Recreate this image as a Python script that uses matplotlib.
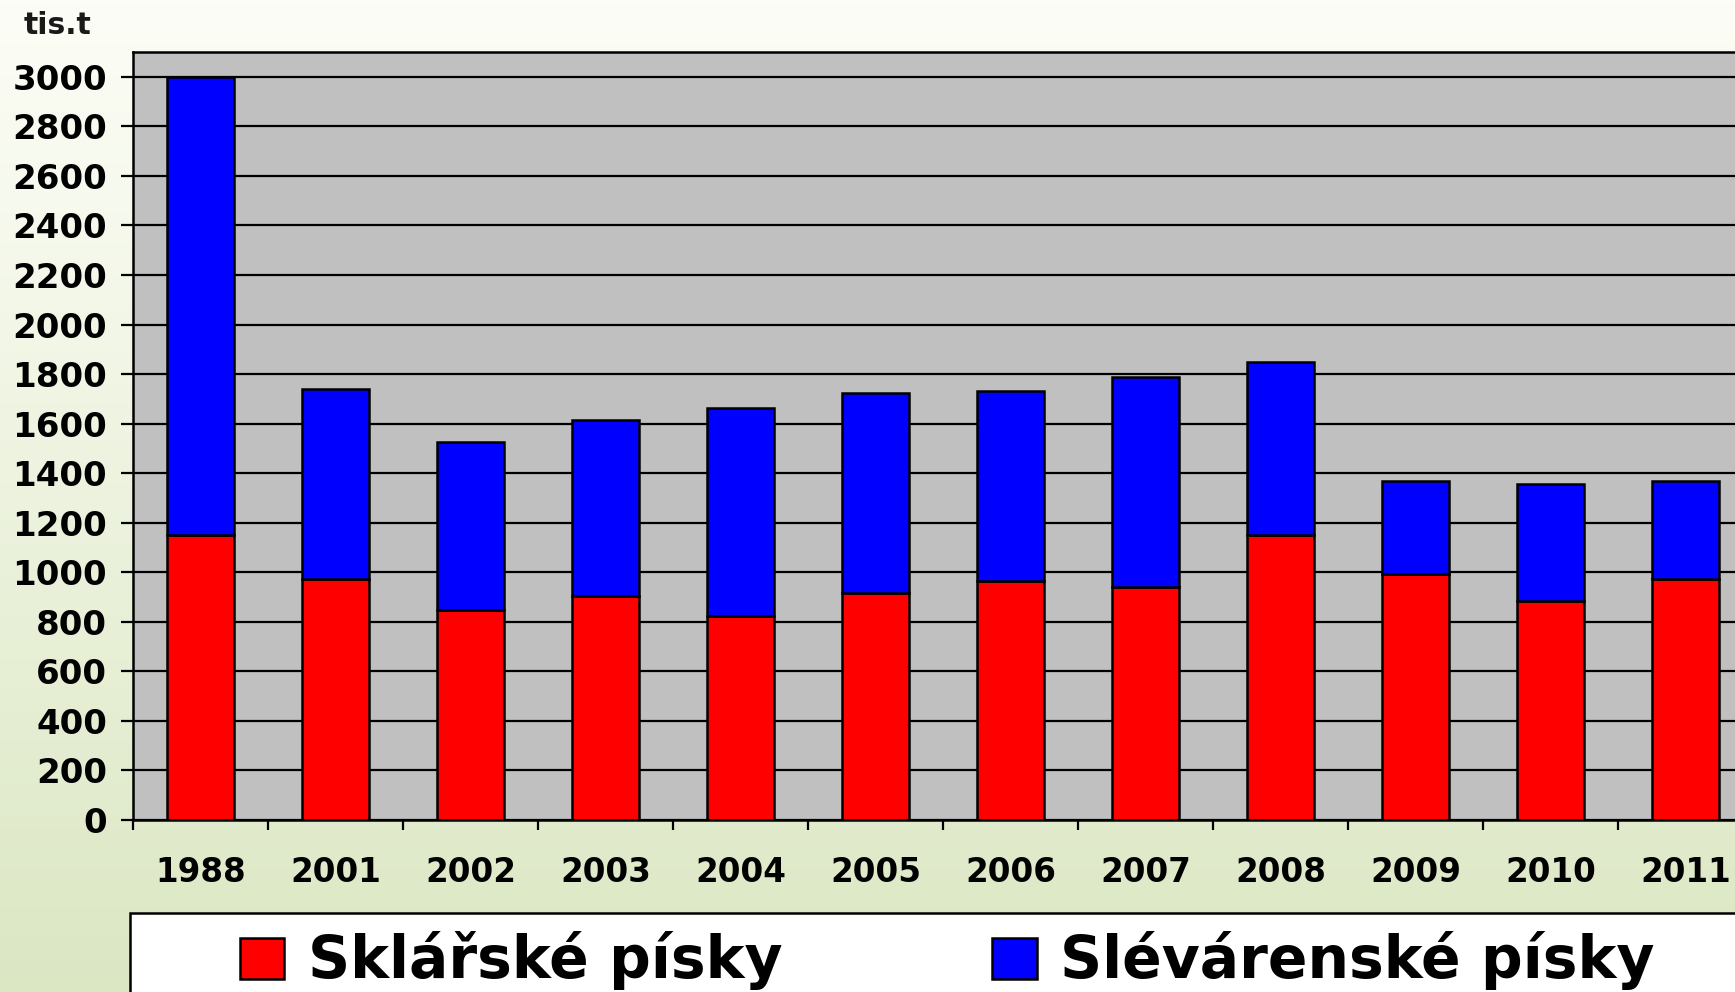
import numpy as np
import matplotlib.pyplot as plt
from matplotlib.patches import Rectangle

years = ["1988", "2001", "2002", "2003", "2004", "2005",
         "2006", "2007", "2008", "2009", "2010", "2011"]
sklarske = [1150, 973, 847, 904, 825, 915, 965, 942, 1150, 992, 884, 972]
celkem = [3000, 1740, 1527, 1614, 1662, 1723, 1732, 1790, 1848, 1367, 1358, 1367]
slevarenske = [c - s for c, s in zip(celkem, sklarske)]
y_ticks = list(range(0, 3001, 200))

W, H = 1735, 992
fig = plt.figure(figsize=(W / 100, H / 100), dpi=100)

# slide background: white at top fading to light green at the bottom
bg = fig.add_axes([0, 0, 1, 1], zorder=-10)
t = np.linspace(0, 1, 256)[:, None]
top = np.array([252, 253, 246]) / 255
bottom = np.array([219, 231, 195]) / 255
grad = top + (bottom - top) * t[..., None] ** 1.1
grad = np.repeat(grad, 4, axis=1)
bg.imshow(grad, aspect="auto", extent=[0, 1, 0, 1])
bg.set_axis_off()

ax = fig.add_axes([133 / W, 1 - 820 / H, (1753 - 133) / W, (820 - 52) / H])
ax.set_facecolor("#c0c0c0")

x = np.arange(len(years))
red_bars = ax.bar(x, sklarske, width=0.5, color="#ff0000",
                  edgecolor="black", linewidth=1.8, zorder=3)
blue_bars = ax.bar(x, slevarenske, width=0.5, bottom=sklarske, color="#0000ff",
                   edgecolor="black", linewidth=1.8, zorder=3)

ax.set_ylim(0, 3100)
ax.set_xlim(-0.5, len(years) - 0.5)
ax.set_yticks(y_ticks)
ax.set_yticklabels([str(v) for v in y_ticks])
ax.yaxis.grid(True, color="black", linewidth=1.6, zorder=1)
ax.set_axisbelow(True)

# ticks on category boundaries, labels at category centres
ax.set_xticks(np.arange(len(years)) - 0.5)
ax.set_xticklabels([])
ax.set_xticks(x, minor=True)
ax.set_xticklabels(years, minor=True)
ax.tick_params(axis="x", which="major", direction="out", length=7.5, width=1.6)
ax.tick_params(axis="x", which="minor", length=0, pad=26)
ax.tick_params(axis="y", direction="out", length=8.6, width=1.6, pad=10)

for lab in ax.get_xticklabels(minor=True):
    lab.set_fontfamily("DejaVu Sans")
    lab.set_fontweight("bold")
    lab.set_fontsize(23.5)
for lab in ax.get_yticklabels():
    lab.set_fontfamily("DejaVu Sans")
    lab.set_fontweight("bold")
    lab.set_fontsize(24.5)

for sp in ax.spines.values():
    sp.set_linewidth(1.8)

fig.text(24 / W, 1 - 25 / H, "tis.t", fontsize=21.5, fontweight="bold",
         family="DejaVu Sans", va="center", ha="left", color="#1a1a1a")

# legend box runs off the bottom/right edge
fig.patches.append(Rectangle((130 / W, -0.1), 1.2, 0.1 + (H - 913) / H,
                             transform=fig.transFigure, facecolor="white",
                             edgecolor="black", linewidth=1.8, zorder=5))

leg = fig.legend([red_bars, blue_bars], ["Sklářské písky", "Slévárenské písky"],
                 loc="center left", bbox_to_anchor=(240 / W, 1 - 961 / H),
                 ncol=2, frameon=False, borderpad=0, borderaxespad=0,
                 handlelength=0.76, handleheight=0.7, handletextpad=0.4,
                 columnspacing=3.6,
                 prop={"family": "DejaVu Sans", "weight": "bold", "size": 42})
leg.set_zorder(6)

fig.savefig("out.png", dpi=100)
